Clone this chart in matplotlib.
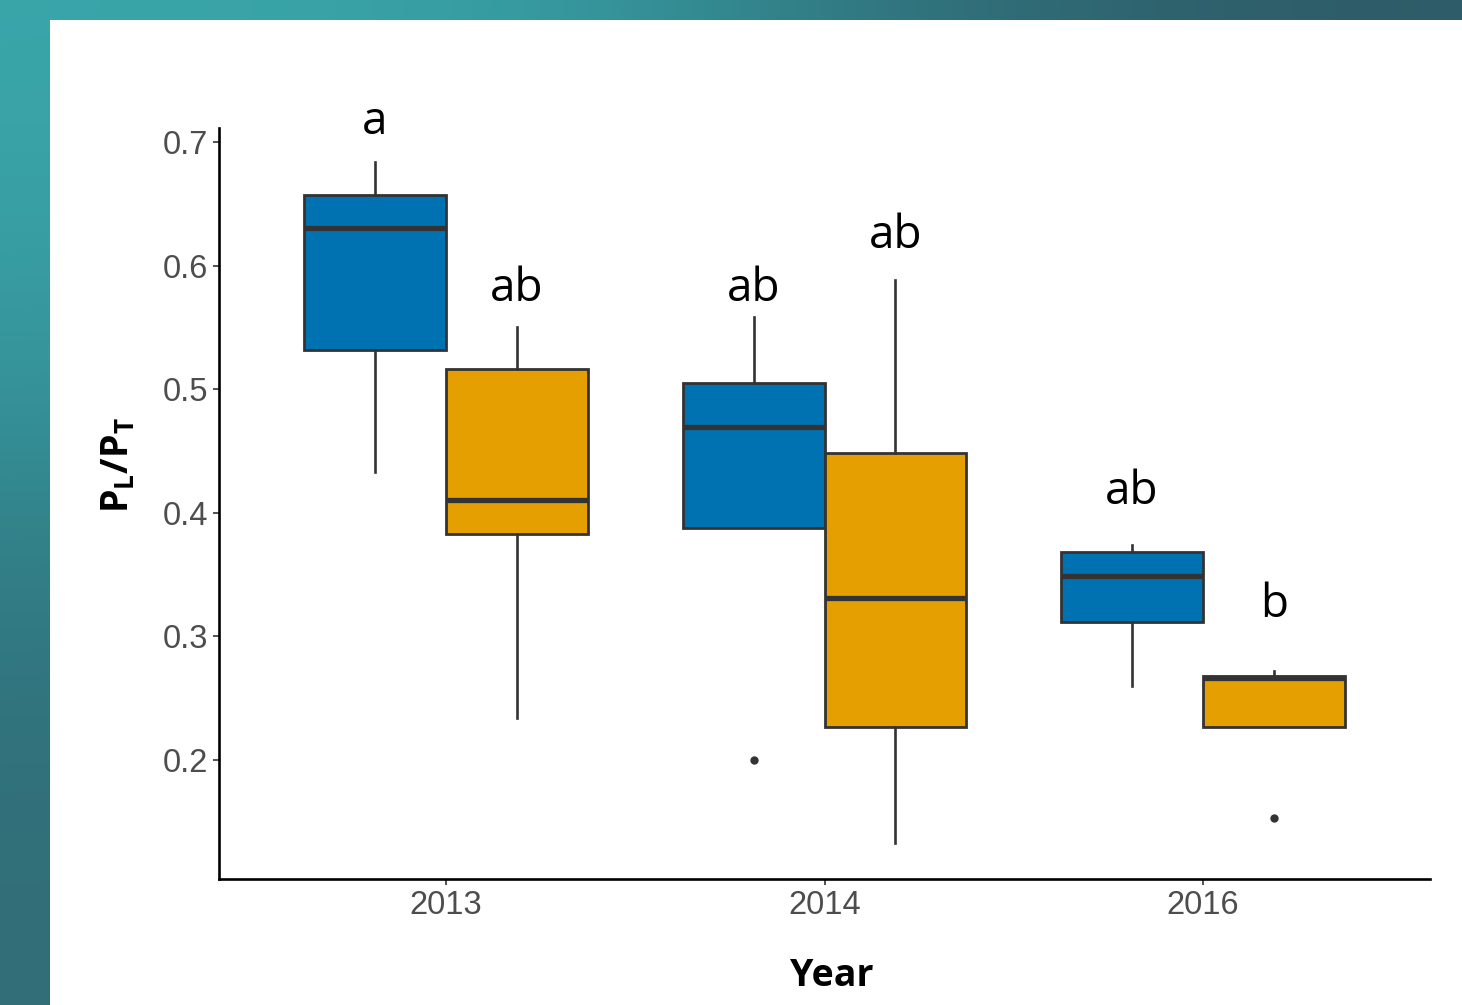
import numpy as np
import matplotlib
matplotlib.use("Agg")
import matplotlib.pyplot as plt
from matplotlib.patches import Rectangle

plt.rcParams["mathtext.fontset"] = "custom"
plt.rcParams["mathtext.rm"] = "Open Sans"
plt.rcParams["mathtext.bf"] = "Open Sans:bold"

# P_L/P_T box summaries per year, two groups per year
years = ["2013", "2014", "2016"]
groups = ["blue", "orange"]
colors = ["#0072B2", "#E69F00"]

whislo = [[0.433, 0.234], [0.388, 0.133], [0.260, 0.227]]
q1 = [[0.532, 0.383], [0.388, 0.227], [0.312, 0.227]]
med = [[0.630, 0.410], [0.469, 0.331], [0.349, 0.266]]
q3 = [[0.657, 0.516], [0.505, 0.448], [0.368, 0.268]]
whishi = [[0.684, 0.550], [0.558, 0.588], [0.374, 0.272]]
fliers = [[[], []], [[0.200], []], [[], [0.153]]]

# significance letters and the height they sit at
letters = [["a", "ab"], ["ab", "ab"], ["ab", "b"]]
letter_y = [[0.716, 0.581], [0.581, 0.624], [0.417, 0.325]]

fig = plt.figure(figsize=(14.62, 10.05), dpi=100)

# teal backdrop with a white panel over it
bg = fig.add_axes([0, 0, 1, 1], zorder=-10)
grad = np.array([
    [[58, 166, 170], [55, 160, 165], [48, 112, 122], [46, 92, 104]],
    [[54, 150, 156], [52, 140, 148], [48, 110, 120], [46, 92, 104]],
    [[49, 118, 128], [48, 112, 122], [47, 100, 110], [46, 92, 104]],
    [[50, 110, 120], [48, 104, 114], [46, 96, 106], [46, 92, 104]],
]) / 255.0
bg.imshow(grad, aspect="auto", interpolation="bicubic", extent=[0, 1, 0, 1])
bg.set_xlim(0, 1)
bg.set_ylim(0, 1)
bg.axis("off")
fig.patches.append(Rectangle((50 / 1462, 0), 1, 985 / 1005, transform=fig.transFigure,
                             facecolor="white", edgecolor="none", zorder=-5))

ax = fig.add_axes([219 / 1462, 126 / 1005, 1211 / 1462, 751 / 1005])
ax.set_facecolor("none")

width = 0.375
for i, yr in enumerate(years):
    for j, g in enumerate(groups):
        pos = i + 1 + (j - 0.5) * width
        stats = [dict(whislo=whislo[i][j], q1=q1[i][j], med=med[i][j], q3=q3[i][j],
                      whishi=whishi[i][j], fliers=fliers[i][j])]
        ax.bxp(stats, positions=[pos], widths=width, patch_artist=True, showcaps=False,
               boxprops=dict(facecolor=colors[j], edgecolor="#333333", linewidth=2.0),
               medianprops=dict(color="#333333", linewidth=3.8, solid_capstyle="butt"),
               whiskerprops=dict(color="#333333", linewidth=1.9),
               flierprops=dict(marker="o", markersize=5, markerfacecolor="#333333",
                               markeredgecolor="#333333"),
               manage_ticks=False)
        ax.text(pos, letter_y[i][j], letters[i][j], ha="center", va="center",
                fontsize=33, family="Open Sans", color="black")

ax.set_xlim(0.4, 3.6)
ax.set_ylim(0.1037, 0.7113)
ax.set_xticks([1, 2, 3])
ax.set_xticklabels(years)
ax.set_yticks([0.2, 0.3, 0.4, 0.5, 0.6, 0.7])
ax.set_yticklabels(["0.2", "0.3", "0.4", "0.5", "0.6", "0.7"])
for lab in ax.get_xticklabels() + ax.get_yticklabels():
    lab.set_family("Liberation Sans")
    lab.set_fontsize(23.5)
    lab.set_color("#4D4D4D")
ax.tick_params(length=4, width=1.2, color="#333333", pad=4)

for s in ["top", "right"]:
    ax.spines[s].set_visible(False)
for s in ["left", "bottom"]:
    ax.spines[s].set_linewidth(1.9)
    ax.spines[s].set_color("black")

ax.set_xlabel("Year", fontsize=27, family="Open Sans", fontweight="bold")
ax.set_ylabel(r"$\mathbf{P_L/P_T}$", fontsize=27)
ax.xaxis.set_label_coords(0.506, -0.104)
ax.yaxis.set_label_coords(-0.068, 0.551)

fig.savefig("out.png", dpi=100)
